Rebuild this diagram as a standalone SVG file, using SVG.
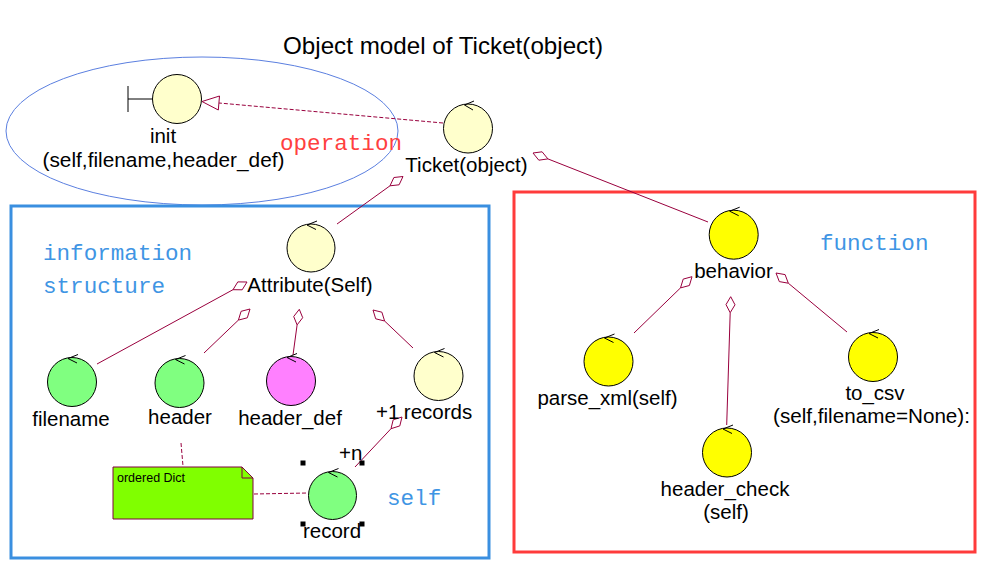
<svg xmlns="http://www.w3.org/2000/svg" width="995" height="569" viewBox="0 0 995 569">
<style>
text{font-family:"Liberation Sans",Arial,sans-serif;fill:#000}
.lbl{font-size:20.5px;text-anchor:middle}
.mono{font-family:"Liberation Mono","DejaVu Sans Mono",monospace;font-size:22.6px}
.blue{fill:#3f95e4}
.red{fill:#ff4040}
.node{stroke:#000;stroke-width:1}
.cy{fill:#ffffcc}
.cg{fill:#80ff80}
.cm{fill:#ff80ff}
.cyy{fill:#ffff00}
.ctl{fill:none;stroke:#000;stroke-width:1}
.link{fill:none;stroke:#99003d;stroke-width:1}
.dia{fill:#fff;stroke:#99003d;stroke-width:1}
.dash{fill:none;stroke:#99003d;stroke-width:1;stroke-dasharray:4 2}
.handle{fill:#000}
</style>
<rect width="995" height="569" fill="#fff"/>

<g id="frames">
<ellipse cx="202" cy="131" rx="196" ry="74" fill="none" stroke="#5b7fe0" stroke-width="1"/>
<rect x="11" y="206" width="478" height="352" fill="none" stroke="#3a8fe0" stroke-width="3"/>
<rect x="514" y="192" width="461" height="360" fill="none" stroke="#ff3b3b" stroke-width="3"/>
</g>

<text x="283" y="54" font-size="24" textLength="320" lengthAdjust="spacingAndGlyphs">Object model of Ticket(object)</text>

<g id="region-labels">
<text class="mono red" x="280" y="150">operation</text>
<text class="mono blue" x="43" y="260">information</text>
<text class="mono blue" x="43" y="293">structure</text>
<text class="mono blue" x="820" y="250">function</text>
<text class="mono blue" x="387" y="505">self</text>
</g>

<g id="connectors">
<!-- Ticket -> init (dashed, hollow triangle) -->
<line class="dash" x1="443" y1="123" x2="219" y2="103"/>
<polygon class="dia" points="202,101.5 219.5,96 218.3,110"/>
<!-- Ticket -> Attribute -->
<line class="link" x1="390" y1="185.8" x2="337" y2="224"/>
<polygon class="dia" points="403,176.5 399.1,184.8 390,185.8 393.9,177.5"/>
<!-- Ticket -> behavior -->
<line class="link" x1="547.9" y1="158.9" x2="708" y2="222"/>
<polygon class="dia" points="533,153 538.8,160.2 547.9,158.9 542.1,151.8"/>
<!-- Attribute -> filename -->
<line class="link" x1="233" y1="289.7" x2="97" y2="364"/>
<polygon class="dia" points="247,282 242.2,289.8 233,289.7 237.8,281.9"/>
<!-- Attribute -> header -->
<line class="link" x1="238.4" y1="320.1" x2="204" y2="353"/>
<polygon class="dia" points="250,309 247.3,317.8 238.4,320.1 241.1,311.3"/>
<!-- Attribute -> header_def -->
<line class="link" x1="297.1" y1="324.9" x2="293" y2="355"/>
<polygon class="dia" points="299.3,309.3 302.7,317.7 297.1,324.9 293.7,316.5"/>
<!-- Attribute -> records -->
<line class="link" x1="384.6" y1="321" x2="413" y2="348"/>
<polygon class="dia" points="373,310 375.7,318.8 384.6,321 381.9,312.2"/>
<!-- records -> record -->
<line class="link" x1="391" y1="428.7" x2="355" y2="467"/>
<polygon class="dia" points="402,417 399.8,425.9 391,428.7 393.2,419.8"/>
<!-- behavior -> parse_xml -->
<line class="link" x1="680.5" y1="287.9" x2="634" y2="333"/>
<polygon class="dia" points="692,276.7 689.4,285.5 680.5,287.9 683.2,279.1"/>
<!-- behavior -> header_check -->
<line class="link" x1="730.2" y1="312.7" x2="726.7" y2="425"/>
<polygon class="dia" points="730.7,296.7 735,304.8 730.2,312.7 726,304.6"/>
<!-- behavior -> to_csv -->
<line class="link" x1="788.3" y1="283.2" x2="847" y2="332"/>
<polygon class="dia" points="776,273 779.3,281.6 788.3,283.2 785.1,274.6"/>
<!-- note anchors -->
<line class="dash" x1="181" y1="443" x2="183" y2="466"/>
<line class="dash" x1="254" y1="494" x2="308" y2="493"/>
</g>

<g id="node-init">
<line class="ctl" x1="128" y1="86" x2="128" y2="112"/>
<line class="ctl" x1="128" y1="99" x2="153" y2="99"/>
<circle class="node cy" cx="177" cy="99" r="24.5"/>
<text class="lbl" x="163" y="143">init</text>
<text class="lbl" x="163.5" y="167" textLength="242" lengthAdjust="spacingAndGlyphs">(self,filename,header_def)</text>
</g>

<g id="node-ticket">
<circle class="node cy" cx="468" cy="128.5" r="24.5"/>
<path class="ctl" d="M474,101 L464.5,105 L473,110"/>
<text class="lbl" x="466.5" y="172">Ticket(object)</text>
</g>

<g id="node-attribute">
<circle class="node cy" cx="311" cy="248" r="24"/>
<path class="ctl" d="M317,221 L307,225 L316,229.5"/>
<text class="lbl" x="310" y="292">Attribute(Self)</text>
</g>

<g id="node-filename">
<circle class="node cg" cx="72" cy="382" r="24.5"/>
<path class="ctl" d="M78,354.5 L68,358.5 L77,363"/>
<text class="lbl" x="71" y="426">filename</text>
</g>

<g id="node-header">
<circle class="node cg" cx="179.5" cy="383" r="24.5"/>
<path class="ctl" d="M185.5,355.5 L175.5,359.5 L184.5,364"/>
<text class="lbl" x="180" y="424">header</text>
</g>

<g id="node-header_def">
<circle class="node cm" cx="291" cy="381" r="24.5"/>
<path class="ctl" d="M297,353.5 L287,357.5 L296,362"/>
<text class="lbl" x="290" y="425">header_def</text>
</g>

<g id="node-records">
<circle class="node cy" cx="438.5" cy="376" r="24.5"/>
<path class="ctl" d="M444.5,348.5 L434.5,352.5 L443.5,357"/>
<text class="lbl" x="376" y="419" text-anchor="start" style="text-anchor:start">+1</text>
<text class="lbl" x="438" y="419">records</text>
</g>

<g id="node-record">
<circle class="node cg" cx="332.5" cy="495.5" r="24"/>
<path class="ctl" d="M338.5,468.5 L328.5,472.5 L337.5,477"/>
<text class="lbl" x="339" y="460" style="text-anchor:start">+n</text>
<text class="lbl" x="332" y="538">record</text>
<rect class="handle" x="300.5" y="460.5" width="5" height="5"/>
<rect class="handle" x="359.5" y="460.5" width="5" height="5"/>
<rect class="handle" x="300.5" y="521.5" width="5" height="5"/>
<rect class="handle" x="359.5" y="521.5" width="5" height="5"/>
</g>

<g id="node-note">
<polygon points="113,467 242,467 253,478 253,519 113,519" fill="#80ff00" stroke="#800040" stroke-width="1"/>
<polyline points="242,467 242,478 253,478" fill="none" stroke="#800040" stroke-width="1"/>
<text x="117" y="481.5" font-size="12.5">ordered Dict</text>
</g>

<g id="node-behavior">
<circle class="node cyy" cx="733.7" cy="234.7" r="24.5"/>
<path class="ctl" d="M739.7,207.2 L729.7,211.2 L738.7,215.7"/>
<text class="lbl" x="733.5" y="278">behavior</text>
</g>

<g id="node-parse_xml">
<circle class="node cyy" cx="608.5" cy="361.5" r="24.5"/>
<path class="ctl" d="M614.5,334 L604.5,338 L613.5,342.5"/>
<text class="lbl" x="607.5" y="405">parse_xml(self)</text>
</g>

<g id="node-header_check">
<circle class="node cyy" cx="727" cy="452.5" r="24.5"/>
<path class="ctl" d="M733,425 L723,429 L732,433.5"/>
<text class="lbl" x="725" y="496">header_check</text>
<text class="lbl" x="726" y="519">(self)</text>
</g>

<g id="node-to_csv">
<circle class="node cyy" cx="873" cy="357" r="24.5"/>
<path class="ctl" d="M879,329.5 L869,333.5 L878,338"/>
<text class="lbl" x="875" y="400">to_csv</text>
<text class="lbl" x="871.5" y="423" textLength="197" lengthAdjust="spacingAndGlyphs">(self,filename=None):</text>
</g>
</svg>
